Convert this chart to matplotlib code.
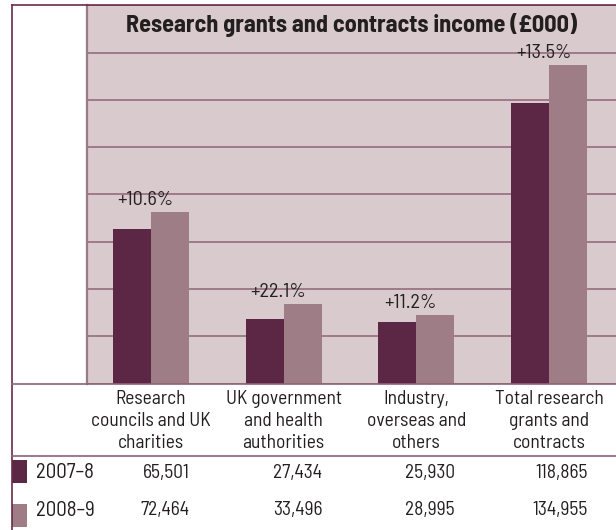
import numpy as np
import matplotlib
matplotlib.use("Agg")
import matplotlib.pyplot as plt
from matplotlib.lines import Line2D
from matplotlib.patches import Rectangle
from matplotlib import transforms
from matplotlib import font_manager as fm
import matplotlib.patheffects as pe

# Daten
categories = ["Research\ncouncils and UK\ncharities",
              "UK government\nand health\nauthorities",
              "Industry,\noverseas and\nothers",
              "Total research\ngrants and\ncontracts"]
years = ["2007\u20138", "2008\u20139"]
income_0708 = [65501, 27434, 25930, 118865]
income_0809 = [72464, 33496, 28995, 134955]
change_labels = ["+10.6%", "+22.1%", "+11.2%", "+13.5%"]

# Farben
c_dark = "#5c2645"
c_light = "#9e7d86"
c_bg = "#d8cacd"
c_grid = "#8e6378"
c_frame = "#6a2c4c"
c_text = "#231f20"

W, H = 616, 530
def fx(px):
    return px / W
def fy(py):
    return 1 - py / H

fig = plt.figure(figsize=(W / 100, H / 100), dpi=100)
fig.patch.set_facecolor("white")

# schmale Schrift mit normaler Strichstaerke suchen
def wnum(w):
    return w if isinstance(w, (int, float)) else fm.weight_dict.get(w, 400)

cands = {}
for f in fm.fontManager.ttflist:
    if "Narrow" in f.name or "Condensed" in f.name or f.stretch in ("condensed", "semi-condensed"):
        cands.setdefault(f.name, set()).add(wnum(f.weight))

fnt = {"family": "Roboto"}
has_bold = True
if cands:
    renderer = fig.canvas.get_renderer()
    best = None
    for name, ws in cands.items():
        if not any(380 <= w <= 450 for w in ws):
            continue
        t = fig.text(0, 0, "councils and UK", fontsize=12, family=name)
        w = t.get_window_extent(renderer).width
        t.remove()
        if best is None or abs(w - 102) < best[0]:
            best = (abs(w - 102), name, ws)
    if best is not None:
        fnt = {"family": best[1]}
        has_bold = max(best[2]) >= 700

# Plotbereich
ax = fig.add_axes([fx(87), fy(383.5), fx(616) - fx(87), fy(5.3) - fy(383.5)])
ax.set_facecolor(c_bg)
x = np.arange(len(categories))
bw = 0.286
ax.bar(x - bw / 2, income_0708, bw, color=c_dark, zorder=3)
ax.bar(x + bw / 2, income_0809, bw, color=c_light, zorder=3)
ax.set_xlim(-0.482, 3.504)
ax.set_ylim(0, 160000)
ax.set_yticks(np.arange(0, 160001, 20000))
ax.grid(axis="y", color=c_grid, lw=1.1)
ax.set_axisbelow(True)
ax.tick_params(left=False, bottom=False, labelleft=False, labelbottom=False)
for s in ["top", "right", "bottom"]:
    ax.spines[s].set_visible(False)
ax.spines["left"].set_color("#9a7a88")
ax.spines["left"].set_linewidth(1.6)

# Prozent-Beschriftungen
for i, lab in enumerate(change_labels):
    ax.annotate(lab, (x[i], income_0809[i]), xytext=(-4, 5), textcoords="offset points",
                ha="center", va="baseline", fontsize=14.5, color=c_text, zorder=4, **fnt)

# Titel (Breite auf Vorlage angepasst)
title = fig.text(fx(352), fy(31.7), "Research grants and contracts income (\u00a3000)", ha="center",
                 va="baseline", fontsize=19, fontweight="bold", color=c_text, **fnt)
if not has_bold:
    title.set_path_effects([pe.withStroke(linewidth=1.8, foreground=c_text)])
fig.canvas.draw()
tw = title.get_window_extent().width
title.set_fontsize(19 * 450 / tw)

# Rahmenlinien
fig.add_artist(Line2D([fx(12), fx(616)], [fy(5.3), fy(5.3)], color=c_frame, lw=1.2))
fig.add_artist(Line2D([fx(12), fx(12)], [fy(5.3), fy(530)], color=c_frame, lw=1.2))
fig.add_artist(Line2D([fx(12), fx(616)], [fy(383.8), fy(383.8)], color=c_grid, lw=1.2))
fig.add_artist(Line2D([fx(12), fx(616)], [fy(456), fy(456)], color=c_grid, lw=1.2))

# Tabelle
trans = transforms.blended_transform_factory(ax.transData, fig.transFigure)
for i, cat in enumerate(categories):
    fig.text(x[i], fy(421), cat, transform=trans, ha="center", va="center",
             fontsize=14, color=c_text, linespacing=1.27, **fnt)

rows = [income_0708, income_0809]
row_y = [473, 510]
sw_y = [(460, 483), (504, 527)]
sw_col = [c_dark, c_light]
for r in range(2):
    fig.add_artist(Rectangle((fx(12), fy(sw_y[r][1])), fx(27) - fx(12), fy(sw_y[r][0]) - fy(sw_y[r][1]),
                             transform=fig.transFigure, color=sw_col[r], lw=0))
    fig.text(fx(36), fy(row_y[r]), years[r], ha="left", va="center",
             fontsize=15, color=c_text, **fnt)
    for i in range(len(categories)):
        fig.text(x[i] + 0.29, fy(row_y[r]), f"{rows[r][i]:,}", transform=trans, ha="right", va="center",
                 fontsize=14, color=c_text, **fnt)

fig.savefig("out.png", dpi=100)
